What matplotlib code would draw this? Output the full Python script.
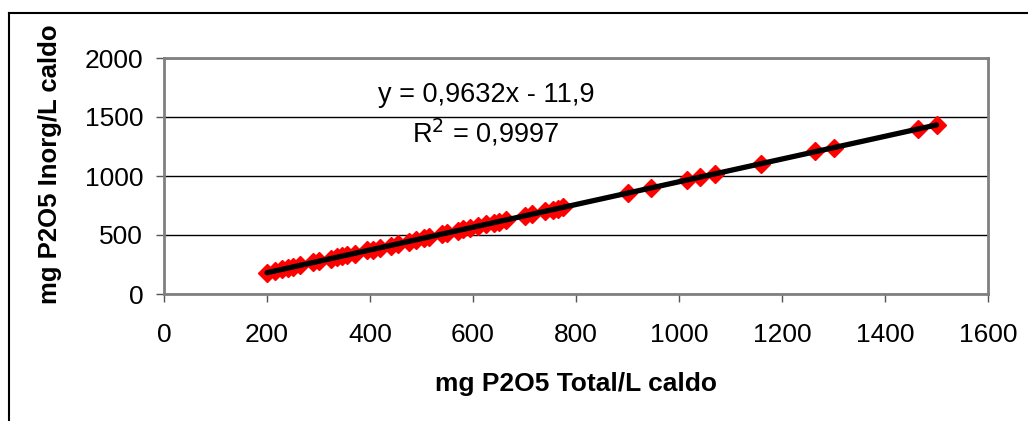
import numpy as np
import matplotlib
matplotlib.use("Agg")
import matplotlib.pyplot as plt
from matplotlib.lines import Line2D

plt.rcParams['font.family'] = ['Liberation Sans', 'DejaVu Sans']

# data
p_total = [200, 215, 230, 240, 250, 265, 290, 300, 325, 335, 345, 355, 370,
           395, 405, 420, 440, 455, 475, 490, 505, 515, 540, 550, 570, 580,
           595, 610, 625, 640, 650, 665, 700, 715, 740, 755, 765, 775,
           900, 945, 1015, 1040, 1070, 1160, 1265, 1300, 1465, 1500]
p_inorg = [181, 196, 209, 220, 228, 244, 267, 278, 300, 312, 319, 331, 343,
           370, 377, 394, 411, 427, 444, 461, 473, 485, 507, 519, 536, 548,
           560, 576, 589, 605, 613, 629, 661, 678, 700, 716, 724, 735,
           856, 897, 967, 989, 1020, 1104, 1208, 1239, 1400, 1432]
eq_text = "y = 0,9632x - 11,9"
r2_text = "R$^2$ = 0,9997"

W, H = 1028, 421
fig = plt.figure(figsize=(W / 100, H / 100), dpi=100)
ax = fig.add_axes([164 / W, 1 - 294 / H, (988 - 164) / W, (294 - 58) / H])

ax.plot(p_total, p_inorg, linestyle="none", marker="D", markersize=9,
        color="#ff0000", markeredgecolor="#ff0000", zorder=3)

# linear trend line
coef = np.polyfit(p_total, p_inorg, 1)
xs = np.array([min(p_total), max(p_total)])
ax.plot(xs, np.polyval(coef, xs), color="black", linewidth=3.8,
        solid_capstyle="round", zorder=4)

ax.set_xlim(0, 1600)
ax.set_ylim(0, 2000)
ax.set_xticks(range(0, 1601, 200))
ax.set_yticks(range(0, 2001, 500))
ax.tick_params(direction="out", length=6, width=1, color="#555555",
               labelsize=19)
ax.tick_params(axis="x", pad=15)
ax.tick_params(axis="y", pad=9)
ax.yaxis.grid(True, color="black", linewidth=1)
ax.set_axisbelow(True)
for s in ax.spines.values():
    s.set_color("#808080")
    s.set_linewidth(2)

ax.set_xlabel("mg P2O5 Total/L caldo", fontsize=19, fontweight="bold")
ax.set_ylabel("mg P2O5 Inorg/L caldo", fontsize=18.5, fontweight="bold")
ax.xaxis.set_label_coords(0.5, -0.33)
ax.yaxis.set_label_coords(-0.124, 0.55)

ax.text(625, 1686, eq_text, ha="center", va="center", fontsize=19.5)
ax.text(625, 1364, r2_text, ha="center", va="center", fontsize=19.5)

# outer chart frame (cut off at right and bottom)
fig.add_artist(Line2D([9 / W, 1], [1 - 13 / H, 1 - 13 / H], color="black", linewidth=1.5))
fig.add_artist(Line2D([9 / W, 9 / W], [0, 1 - 13 / H], color="black", linewidth=1.5))

fig.savefig("out.png", dpi=100)
